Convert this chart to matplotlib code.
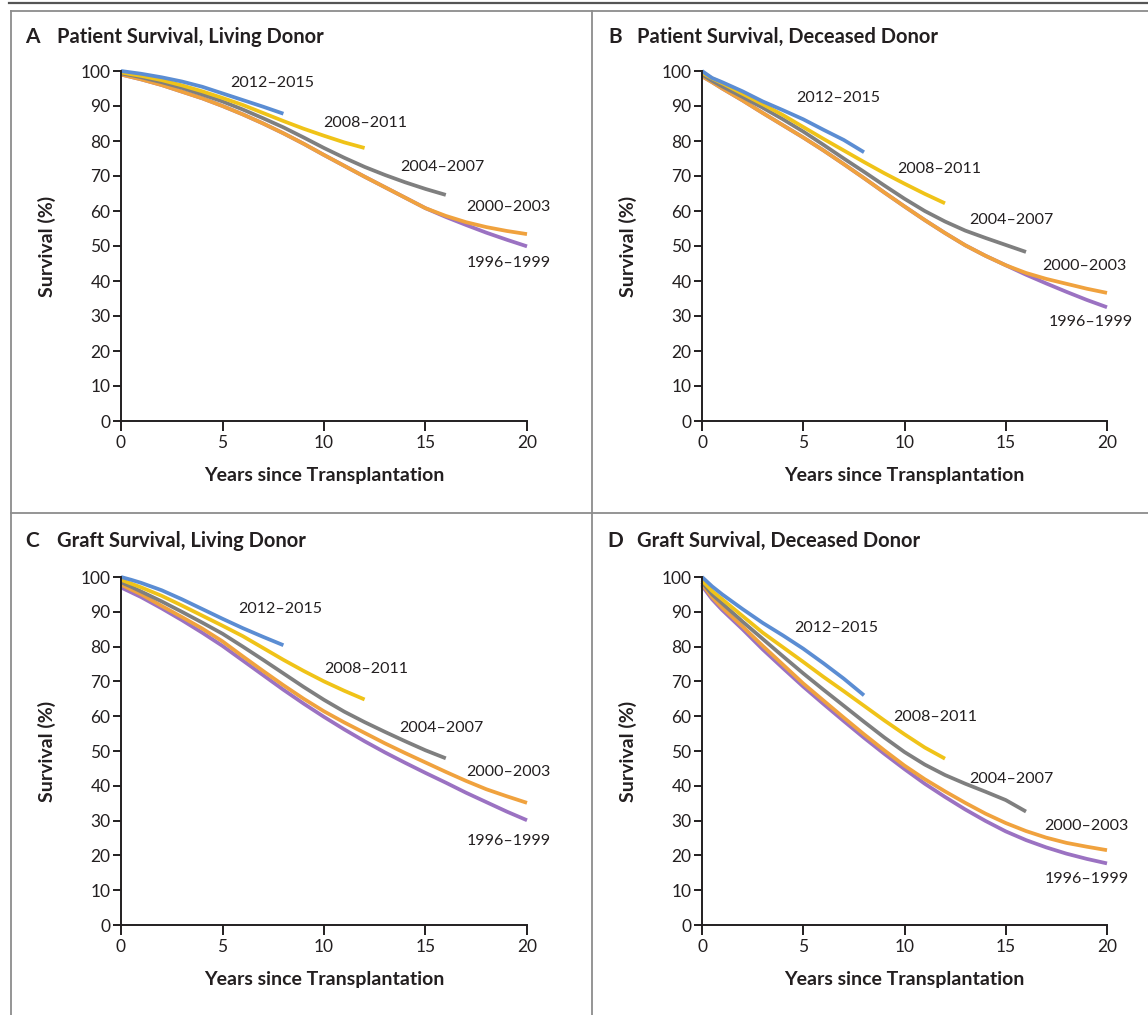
import matplotlib.pyplot as plt
from matplotlib.lines import Line2D

plt.rcParams['font.family'] = ['Lato', 'DejaVu Sans']

cohorts = ['1996\u20131999', '2000\u20132003', '2004\u20132007', '2008\u20132011', '2012\u20132015']
colors = ['#9b72c2', '#f0a23e', '#7f7f7f', '#f0c318', '#5b8dd3']

# years for each cohort (follow-up length differs)
yrs20 = [0, 0.5] + list(range(1, 21))
yrs16 = [0, 0.5] + list(range(1, 17))
yrs12 = [0, 0.5] + list(range(1, 13))
yrs8 = [0, 0.5] + list(range(1, 9))
years = [yrs20, yrs20, yrs16, yrs12, yrs8]

# A  Patient survival, living donor
a_9699 = [99.0, 98.3, 97.6, 96.0, 94.1, 92.2, 90.0, 87.6, 85.0, 82.2, 79.2, 76.0,
          72.9, 69.8, 66.8, 63.8, 60.8, 58.3, 56.0, 53.8, 51.8, 49.9]
a_0003 = [99.0, 98.3, 97.6, 96.0, 94.1, 92.2, 90.0, 87.6, 85.0, 82.2, 79.2, 76.0,
          72.9, 69.8, 66.8, 63.8, 60.8, 58.6, 56.8, 55.4, 54.3, 53.4]
a_0407 = [99.3, 98.8, 98.2, 96.8, 95.2, 93.3, 91.3, 89.0, 86.5, 83.9, 81.0, 78.0,
          75.2, 72.6, 70.3, 68.2, 66.3, 64.6]
a_0811 = [99.6, 99.1, 98.6, 97.4, 95.9, 94.2, 92.3, 90.3, 88.0, 85.7, 83.5, 81.5,
          79.6, 78.0]
a_1215 = [100.0, 99.6, 99.2, 98.2, 97.0, 95.5, 93.6, 91.7, 89.8, 87.8]

# B  Patient survival, deceased donor
b_9699 = [98.5, 96.8, 95.0, 91.6, 88.0, 84.5, 81.0, 77.3, 73.4, 69.4, 65.3, 61.3,
          57.4, 53.7, 50.2, 47.2, 44.5, 41.8, 39.3, 36.9, 34.6, 32.5]
b_0003 = [98.5, 96.8, 95.0, 91.6, 88.0, 84.5, 81.0, 77.3, 73.4, 69.4, 65.3, 61.3,
          57.4, 53.7, 50.2, 47.2, 44.5, 42.3, 40.6, 39.2, 37.8, 36.6]
b_0407 = [99.0, 97.2, 95.6, 92.6, 89.5, 86.2, 82.7, 78.9, 75.0, 71.2, 67.3, 63.5,
          60.0, 57.0, 54.4, 52.3, 50.3, 48.3]
b_0811 = [99.5, 97.9, 96.5, 93.5, 90.5, 87.4, 84.0, 80.6, 77.3, 74.0, 70.8, 67.8,
          64.9, 62.2]
b_1215 = [100.0, 98.0, 96.8, 94.2, 91.3, 88.8, 86.2, 83.2, 80.3, 76.8]

# C  Graft survival, living donor
c_9699 = [97.0, 95.6, 94.2, 91.0, 87.6, 84.0, 80.2, 76.0, 71.8, 67.6, 63.6, 59.8,
          56.2, 52.8, 49.6, 46.6, 43.7, 40.9, 38.0, 35.3, 32.6, 30.1]
c_0003 = [97.8, 96.4, 95.0, 91.7, 88.5, 85.2, 81.5, 77.2, 73.0, 68.9, 65.0, 61.4,
          58.2, 55.2, 52.2, 49.4, 46.7, 44.0, 41.4, 39.0, 37.0, 35.1]
c_0407 = [98.5, 97.2, 95.8, 93.0, 90.0, 86.9, 83.7, 80.0, 76.2, 72.3, 68.4, 64.7,
          61.3, 58.3, 55.5, 52.8, 50.2, 47.9]
c_0811 = [99.2, 98.1, 97.0, 94.6, 91.8, 88.9, 86.0, 83.0, 79.6, 76.2, 73.0, 70.0,
          67.3, 64.8]
c_1215 = [100.0, 99.2, 98.3, 96.2, 93.6, 90.8, 88.0, 85.3, 82.8, 80.4]

# D  Graft survival, deceased donor
d_9699 = [97.5, 93.6, 90.5, 85.0, 79.2, 73.8, 68.5, 63.5, 58.6, 53.8, 49.2, 44.8,
          40.6, 36.8, 33.2, 29.9, 26.9, 24.4, 22.3, 20.5, 19.0, 17.7]
d_0003 = [98.0, 94.2, 91.2, 85.8, 80.2, 74.8, 69.4, 64.5, 59.6, 54.8, 50.2, 45.8,
          41.9, 38.4, 35.1, 32.0, 29.3, 27.0, 25.1, 23.6, 22.5, 21.5]
d_0407 = [98.5, 95.0, 92.4, 87.2, 82.2, 77.2, 72.3, 67.6, 63.0, 58.4, 53.9, 49.7,
          46.1, 43.1, 40.6, 38.3, 35.9, 32.6]
d_0811 = [99.0, 96.0, 93.6, 88.8, 84.0, 79.8, 75.6, 71.3, 67.2, 63.0, 58.8, 54.8,
          51.0, 47.8]
d_1215 = [100.0, 97.3, 95.0, 90.8, 86.8, 83.2, 79.4, 75.2, 70.8, 66.0]

panels = [
    ('A', 'Patient Survival, Living Donor', [a_9699, a_0003, a_0407, a_0811, a_1215]),
    ('B', 'Patient Survival, Deceased Donor', [b_9699, b_0003, b_0407, b_0811, b_1215]),
    ('C', 'Graft Survival, Living Donor', [c_9699, c_0003, c_0407, c_0811, c_1215]),
    ('D', 'Graft Survival, Deceased Donor', [d_9699, d_0003, d_0407, d_0811, d_1215]),
]

# label positions (years, %) for each cohort, per panel
label_xy = [
    [(19.1, 45.2), (19.1, 61.2), (15.85, 72.5), (12.05, 85.2), (7.47, 96.5)],
    [(19.2, 28.2), (18.9, 44.2), (15.3, 57.4), (11.7, 71.9), (6.75, 92.2)],
    [(19.1, 24.1), (19.1, 44.0), (15.8, 56.5), (12.08, 73.7), (7.83, 90.8)],
    [(19.0, 13.3), (19.0, 28.5), (15.3, 41.9), (11.5, 59.8), (6.63, 85.4)],
]

W, H = 1148, 1015
fig = plt.figure(figsize=(W / 100, H / 100), dpi=100)

# axes boxes in pixel coords: left, top, right, bottom
boxes = [(121, 71, 527, 421), (702, 71, 1107, 421),
         (121, 577, 527, 925), (702, 577, 1107, 925)]
title_pos = [(25, 57, 37), (608, 637, 37), (25, 57, 541), (607, 637, 541)]

ink = '#231f20'
for i, (letter, title, series) in enumerate(panels):
    l, t, r, b = boxes[i]
    ax = fig.add_axes([l / W, 1 - b / H, (r - l) / W, (b - t) / H])
    for yrs, vals, c in zip(years, series, colors):
        ax.plot(yrs, vals, color=c, lw=2.7, solid_capstyle='butt', clip_on=False)
    for (lx, ly), lab in zip(label_xy[i], cohorts):
        ax.text(lx, ly, lab, ha='center', va='center', fontsize=11.5, color=ink)
    ax.set_xlim(0, 20)
    ax.set_ylim(0, 100)
    ax.set_xticks([0, 5, 10, 15, 20])
    ax.set_yticks(range(0, 101, 10))
    for s in ['top', 'right']:
        ax.spines[s].set_visible(False)
    for s in ['left', 'bottom']:
        ax.spines[s].set_linewidth(1.4)
        ax.spines[s].set_color(ink)
    ax.tick_params(axis='y', length=6, width=1.4, pad=1.5, labelsize=12.5, colors=ink)
    ax.tick_params(axis='x', length=7, width=1.4, pad=3, labelsize=12.5, colors=ink)
    ax.set_xlabel('Years since Transplantation', fontsize=14, fontweight='bold', color=ink)
    ax.set_ylabel('Survival (%)', fontsize=14, fontweight='bold', color=ink)
    ax.xaxis.set_label_coords(0.5, -0.132)
    ax.yaxis.set_label_coords(-0.16, 0.5)

    lx, tx, ty = title_pos[i]
    fig.text(lx / W, 1 - ty / H, letter, fontsize=15, fontweight='bold',
             va='center', ha='left', color=ink)
    fig.text(tx / W, 1 - ty / H, title, fontsize=14.5, fontweight='bold',
             va='center', ha='left', color=ink)

# frame lines
grey = '#8c8c8c'
fig.add_artist(Line2D([9 / W, 1], [1 - 3.2 / H] * 2, color='#555555', lw=1.6))
fig.add_artist(Line2D([11 / W, 1], [1 - 11 / H] * 2, color=grey, lw=1.3))
fig.add_artist(Line2D([11 / W] * 2, [0, 1 - 11 / H], color=grey, lw=1.3))
fig.add_artist(Line2D([592 / W] * 2, [0, 1 - 11 / H], color=grey, lw=1.3))
fig.add_artist(Line2D([11 / W, 1], [1 - 513 / H] * 2, color=grey, lw=1.3))

fig.savefig('out.png', dpi=100)
